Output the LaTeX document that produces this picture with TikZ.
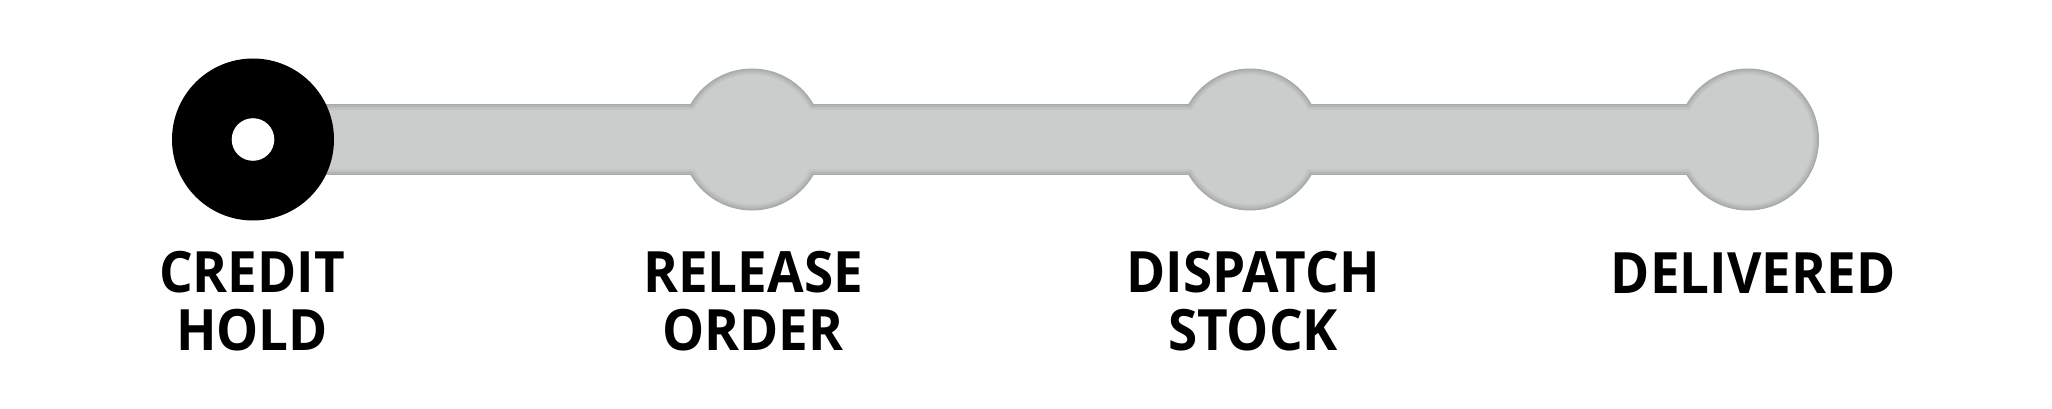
\documentclass[tikz,border=0pt]{standalone}
\usepackage{fontspec}
\setmainfont{Open Sans}
\newfontfamily\lblfont[FakeStretch=0.93]{Open Sans Bold}
\definecolor{sh0}{HTML}{A6AAAB}
\definecolor{sh1}{HTML}{B1B5B6}
\definecolor{sh2}{HTML}{BBBEBF}
\definecolor{sh3}{HTML}{C3C5C5}
\definecolor{sh4}{HTML}{CBCCCC}
\tikzset{
  lbl/.style={font=\lblfont\fontsize{57}{57.3}\selectfont, align=center, anchor=base, inner sep=0pt, text=black}
}
\begin{document}
\begin{tikzpicture}[x=1pt,y=-1pt]
\useasboundingbox (0,0) rectangle (2052,409);
\coordinate (c1) at (253,139.5);
\coordinate (c2) at (752,139.5);
\coordinate (c3) at (1250,139.5);
\coordinate (c4) at (1748,139.5);
% gray track with inner shadow
\foreach \d/\c in {0/sh0,1.5/sh1,3/sh2,4.5/sh3,6/sh4}{
  \fill[\c] ([yshift={-35.5pt+\d pt}]c1) rectangle ([yshift={35.5pt-\d pt}]c4);
  \foreach \n in {c2,c3,c4}{
    \fill[\c] (\n) circle ({71-\d});
  }
}
% current step
\fill[black] (c1) circle (81);
\fill[white] (c1) circle (21.3);
% labels (base anchor = baseline of last line)
\node[lbl] (l1) at (252,350) {CREDIT\\HOLD};
\node[lbl] (l2) at (753,350) {RELEASE\\ORDER};
\node[lbl] (l3) at (1253,350) {DISPATCH\\STOCK};
\node[lbl] (l4) at (1753,293) {DELIVERED};
\end{tikzpicture}
\end{document}
